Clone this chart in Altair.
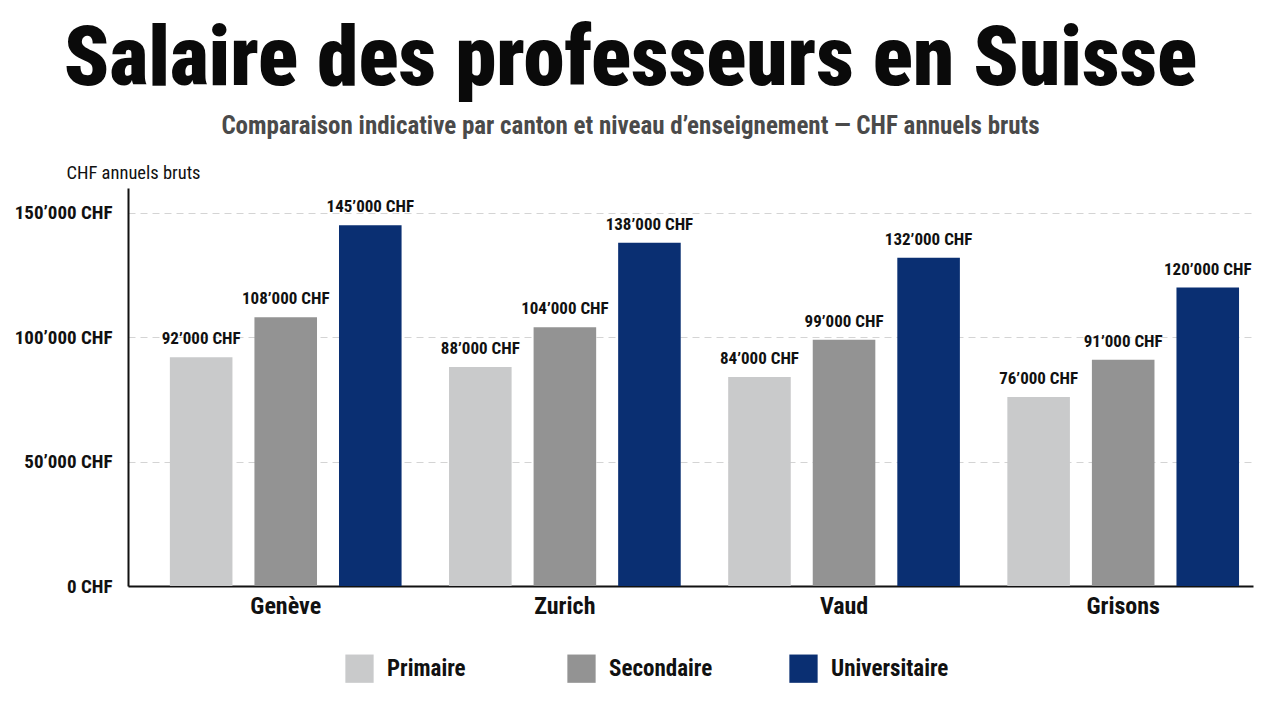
import altair as alt
import pandas as pd

# Salaires annuels bruts (CHF) par canton et niveau d'enseignement
cantons = ["Genève", "Zurich", "Vaud", "Grisons"]
niveaux = ["Primaire", "Secondaire", "Universitaire"]
primaire = [92000, 88000, 84000, 76000]
secondaire = [108000, 104000, 99000, 91000]
universitaire = [145000, 138000, 132000, 120000]
couleurs = ["#c9cacb", "#939393", "#0a2f72"]
graduations = [0, 50000, 100000, 150000]

series = dict(zip(niveaux, [primaire, secondaire, universitaire]))
rows = [
    {"canton": c, "niveau": n, "salaire": series[n][i]}
    for n in niveaux
    for i, c in enumerate(cantons)
]
df = pd.DataFrame(rows)

FONT = "Roboto Condensed, Liberation Sans Narrow, DejaVu Sans Condensed, sans-serif"

base = alt.Chart(df).transform_calculate(
    etiquette="replace(format(datum.salaire, ','), ',', '\u2019') + ' CHF'"
).encode(
    x=alt.X(
        "canton:N",
        sort=cantons,
        scale=alt.Scale(paddingInner=0.17, paddingOuter=0.1, align=0.75),
        axis=alt.Axis(
            title=None,
            labelAngle=0,
            labelFontSize=24,
            labelFontWeight="bold",
            labelColor="#111111",
            labelPadding=8,
            ticks=False,
            domainColor="#111111",
            domainWidth=2,
            grid=False,
        ),
    ),
    xOffset=alt.XOffset(
        "niveau:N", sort=niveaux, scale=alt.Scale(paddingInner=0.26, paddingOuter=0)
    ),
    y=alt.Y(
        "salaire:Q",
        scale=alt.Scale(domain=[0, 160000], nice=False),
        axis=alt.Axis(
            title="CHF annuels bruts",
            titleAngle=0,
            titleAlign="left",
            titleBaseline="middle",
            titleX=-62,
            titleY=-16,
            titleFontSize=18.5,
            titleFontWeight="normal",
            titleColor="#111111",
            values=graduations,
            labelExpr="replace(format(datum.value, ','), ',', '\u2019') + ' CHF'",
            labelFontSize=19,
            labelFontWeight="bold",
            labelColor="#111111",
            labelPadding=16,
            ticks=False,
            domainColor="#111111",
            domainWidth=2,
            grid=True,
            gridColor="#d4d4d4",
            gridDash=[7, 5],
            gridWidth=1,
        ),
    ),
)

barres = base.mark_bar().encode(
    color=alt.Color(
        "niveau:N",
        sort=niveaux,
        scale=alt.Scale(domain=niveaux, range=couleurs),
        legend=alt.Legend(
            title=None,
            orient="none",
            legendX=217,
            legendY=466,
            direction="horizontal",
            columns=3,
            gridAlign="all",
            columnPadding=62,
            symbolType="square",
            symbolSize=800,
            symbolStrokeWidth=0,
            symbolOpacity=1,
            labelFontSize=23,
            labelFontWeight="bold",
            labelColor="#111111",
            labelOffset=13,
            padding=0,
        ),
    )
)

valeurs = base.mark_text(
    baseline="bottom", dy=-9, fontSize=17, fontWeight="bold", color="#111111"
).encode(text="etiquette:N")

chart = (
    alt.layer(barres, valeurs)
    .properties(
        width=1125,
        height=398,
        autosize=alt.AutoSizeParams(type="none"),
        padding={"left": 128, "top": 188, "right": 27, "bottom": 116},
        title=alt.TitleParams(
            text="Salaire des professeurs en Suisse",
            subtitle="Comparaison indicative par canton et niveau d\u2019enseignement \u2014 CHF annuels bruts",
            anchor="middle",
            dx=-60,
            offset=24,
            fontSize=83,
            fontWeight=900,
            color="#0a0a0a",
            subtitleFontSize=25,
            subtitleFontWeight="bold",
            subtitleColor="#4a4a4a",
            subtitlePadding=12,
            font=FONT,
            subtitleFont=FONT,
        ),
    )
    .configure(font=FONT)
    .configure_view(stroke=None)
    .configure_axis(labelFont=FONT, titleFont=FONT)
    .configure_legend(labelFont=FONT)
    .configure_text(font=FONT)
)

chart.save("out.html", embed_options={"renderer": "svg", "actions": False})
